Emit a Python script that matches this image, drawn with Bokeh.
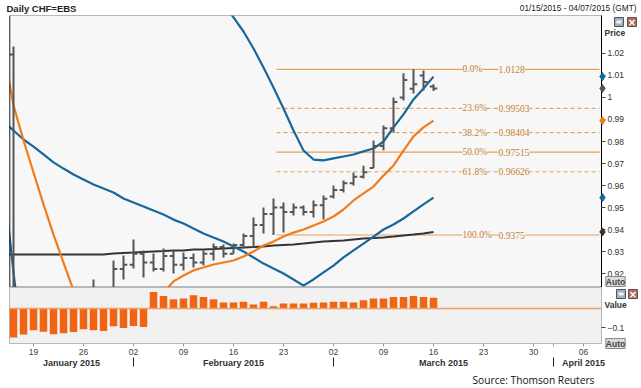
from bokeh.plotting import figure
from bokeh.models import Range1d, LinearAxis, FixedTicker, Label, LabelSet, ColumnDataSource, Span, GridBox
from bokeh.layouts import column
from bokeh.embed import file_html
from bokeh.resources import INLINE

nan = float("nan")

# ---------------- data (x = trading-day index, 0 = 15 Jan 2015) ----------------
tick_idx = [2, 7, 12, 17, 22, 27, 32, 37, 42, 47, 52, 54, 57]
tick_lab = ["19", "26", "02", "09", "16", "23", "02", "09", "16", "23", "30", "", "06"]
month_names = ["January 2015", "February 2015", "March 2015", "April 2015"]
month_pos = [5.8, 22, 43, 57]
month_start = [12, 32, 54]

bar_idx = list(range(43))
opens = [1.0195, 0.860, 0.865, 0.870, 0.876, 0.864, 0.870, 0.882, 0.898, 0.908, 0.905, 0.922, 0.924, 0.929,
         0.925, 0.922, 0.928, 0.924, 0.927, 0.925, 0.929, 0.932, 0.929, 0.933, 0.937, 0.942, 0.947, 0.950,
         0.948, 0.950, 0.948, 0.951, 0.955, 0.958, 0.961, 0.964, 0.968, 0.978, 0.986, 1.000, 1.004, 1.010, 1.005]
highs = [1.0232, 0.900, 0.877, 0.880, 0.880, 0.875, 0.887, 0.902, 0.9173, 0.912, 0.9259, 0.9282, 0.9355, 0.9305,
         0.9291, 0.9314, 0.9305, 0.9295, 0.9291, 0.9305, 0.9336, 0.9332, 0.9336, 0.9382, 0.9455, 0.9500, 0.9541,
         0.9523, 0.9518, 0.9509, 0.9532, 0.9555, 0.9600, 0.9623, 0.9659, 0.9690, 0.9805, 0.9873, 1.0000, 1.0110,
         1.0128, 1.0123, 1.0060]
lows = [0.7400, 0.850, 0.857, 0.862, 0.858, 0.855, 0.866, 0.878, 0.895, 0.900, 0.902, 0.9173, 0.9223, 0.9182,
        0.9209, 0.9209, 0.9200, 0.9214, 0.9227, 0.9236, 0.9259, 0.9273, 0.9291, 0.9314, 0.9318, 0.9382, 0.9375,
        0.9386, 0.9464, 0.9464, 0.9455, 0.9445, 0.9541, 0.9568, 0.9600, 0.9632, 0.9680, 0.9760, 0.9840, 0.9986,
        1.0018, 1.0032, 1.0030]
closes = [0.860, 0.865, 0.870, 0.876, 0.864, 0.870, 0.882, 0.898, 0.908, 0.905, 0.922, 0.924, 0.929, 0.925,
          0.922, 0.928, 0.924, 0.927, 0.925, 0.929, 0.932, 0.929, 0.933, 0.937, 0.942, 0.947, 0.950, 0.948,
          0.950, 0.948, 0.951, 0.954, 0.958, 0.961, 0.964, 0.966, 0.978, 0.986, 0.998, 1.008, 1.006, 1.007, 1.0041]

ma_idx = list(range(-1, 43))
ma_blue_fast = [0.9623, 0.9205, 0.8832] + [nan] * 18 + [1.0495, 1.0427, 1.0364, 1.0300, 1.0223, 1.0136, 1.0045,
                0.9950, 0.9850, 0.9759, 0.9718, 0.9714, 0.9723, 0.9732, 0.9741, 0.9755, 0.9768, 0.9800, 0.9864,
                0.9923, 0.9991, 1.0041, 1.0095]
ma_blue_slow = [0.9891, 0.9850, 0.9809, 0.9777, 0.9741, 0.9705, 0.9677, 0.9650, 0.9627, 0.9605, 0.9586, 0.9568,
                0.9541, 0.9523, 0.9505, 0.9486, 0.9468, 0.9445, 0.9427, 0.9405, 0.9382, 0.9364, 0.9345, 0.9323,
                0.9300, 0.9273, 0.9245, 0.9223, 0.9200, 0.9173, 0.9145, 0.9173, 0.9205, 0.9236, 0.9273, 0.9305,
                0.9336, 0.9368, 0.9400, 0.9423, 0.9450, 0.9482, 0.9514, 0.9545]
ma_orange = [1.0214, 0.9964, 0.9805, 0.9659, 0.9514, 0.9377, 0.9250, 0.9123, 0.8990, 0.8900, 0.8860, 0.8850,
             0.8880, 0.8930, 0.8990, 0.9050, 0.9114, 0.9164, 0.9191, 0.9214, 0.9227, 0.9241, 0.9250, 0.9259,
             0.9277, 0.9300, 0.9327, 0.9345, 0.9368, 0.9386, 0.9400, 0.9418, 0.9436, 0.9459, 0.9491, 0.9532,
             0.9564, 0.9595, 0.9645, 0.9691, 0.9759, 0.9823, 0.9864, 0.9895]
ma_dark = [0.9286] * 11 + [0.9291, 0.9293, 0.9295, 0.9298, 0.9300, 0.9302, 0.9305, 0.9305, 0.9309, 0.9309,
                          0.9311, 0.9314, 0.9316, 0.9318, 0.9320, 0.9323, 0.9327, 0.9330, 0.9332, 0.9336,
                          0.9341, 0.9345, 0.9348, 0.9350, 0.9355, 0.9359, 0.9361, 0.9364, 0.9368, 0.9373,
                          0.9377, 0.9382, 0.9389]

osc = [-0.153, -0.137, -0.114, -0.123, -0.136, -0.130, -0.124, -0.109, -0.114, -0.118, -0.094, -0.102, -0.092,
       -0.097, 0.087, 0.066, 0.049, 0.053, 0.070, 0.061, 0.049, 0.032, 0.032, 0.035, 0.021, 0.035, 0.012, 0.026,
       0.026, 0.026, 0.030, 0.032, 0.035, 0.035, 0.032, 0.044, 0.053, 0.053, 0.061, 0.061, 0.066, 0.061, 0.056]

fib_pct = ["0.0%", "23.6%", "38.2%", "50.0%", "61.8%", "100.0%"]
fib_val = [1.0128, 0.99503, 0.98404, 0.97515, 0.96626, 0.9375]
fib_txt = ["1.0128", "0.99503", "0.98404", "0.97515", "0.96626", "0.9375"]
fib_dashed = [False, True, True, False, True, False]
fib_start, fib_end = 26.3, 58.6

price_ticks = [0.92, 0.93, 0.94, 0.95, 0.96, 0.97, 0.98, 0.99, 1.0, 1.01, 1.02]
value_ticks = [-0.1]

# ---------------- styling ----------------
FONT = "Liberation Sans"
BLUE = "#17679a"
ORANGE = "#f07d1a"
DARK = "#333333"
BARC = "#555555"
HIST = "#f06414"
FIBL = "#e2a25c"
FIBT = "#c97d2e"
BG1 = "#f7f7f7"
BG2 = "#f1f1f1"

x_range = Range1d(-0.4, 58.8)
price_range = Range1d(0.91364, 1.03727)

p1 = figure(width=641, height=287, x_range=x_range, y_range=price_range, title=None,
            x_axis_location=None, y_axis_location=None, toolbar_location=None, output_backend="svg",
            min_border=0, min_border_left=9, min_border_right=40, min_border_top=15, min_border_bottom=0,
            background_fill_color=BG1, border_fill_color="white", outline_line_color="#b8b8b8")
for g in p1.grid:
    g.visible = False

# fib lines
for lvl, dashed in zip(fib_val, fib_dashed):
    p1.segment(x0=fib_start, y0=lvl, x1=fib_end, y1=lvl, line_color=FIBL, line_width=1.2,
               line_dash="4 3" if dashed else "solid")
fsrc = ColumnDataSource(dict(xp=[44.9] * len(fib_val), xv=[48.5] * len(fib_val), y=fib_val,
                             pct=fib_pct, txt=fib_txt))
for col, xcol in (("pct", "xp"), ("txt", "xv")):
    p1.add_layout(LabelSet(x=xcol, y="y", text=col, source=fsrc, text_font=FONT, text_font_size="9.5px",
                           text_color=FIBT, text_baseline="middle", text_align="left",
                           background_fill_color=BG1))

# moving averages
p1.line(ma_idx, ma_dark, line_color=DARK, line_width=2)
p1.line(ma_idx, ma_blue_slow, line_color=BLUE, line_width=2.2)
p1.line(ma_idx, ma_orange, line_color=ORANGE, line_width=2.2)
p1.line(ma_idx, ma_blue_fast, line_color=BLUE, line_width=2.2)

# OHLC bars
p1.segment(x0=bar_idx, y0=lows, x1=bar_idx, y1=highs, line_color=BARC, line_width=2)
p1.segment(x0=[i - 0.38 for i in bar_idx], y0=opens, x1=bar_idx, y1=opens, line_color=BARC, line_width=2)
p1.segment(x0=bar_idx, y0=closes, x1=[i + 0.38 for i in bar_idx], y1=closes, line_color=BARC, line_width=2)

p1.add_layout(Span(location=x_range.start, dimension="height", line_color="black", line_width=1.5))

yax = LinearAxis(ticker=FixedTicker(ticks=price_ticks),
                 major_label_overrides={t: f"{t:g}" for t in price_ticks},
                 major_tick_out=4, major_tick_in=0, axis_line_color="black", major_tick_line_color="#444",
                 major_label_text_font=FONT, major_label_text_font_size="8.5px", major_label_text_color="#333",
                 major_label_standoff=2)
p1.add_layout(yax, "right")

# ---------------- lower panel ----------------
p2 = figure(width=641, height=101, x_range=x_range, y_range=Range1d(-0.1842, 0.1105), title=None,
            x_axis_location=None, y_axis_location=None, toolbar_location=None, output_backend="svg",
            min_border=0, min_border_left=9, min_border_right=40, min_border_top=0, min_border_bottom=45,
            background_fill_color=BG2, border_fill_color="white", outline_line_color="#b8b8b8")
for g in p2.grid:
    g.visible = False

p2.add_layout(Span(location=0, dimension="width", line_color="#f2a060", line_width=1.5))
p2.vbar(x=bar_idx, top=osc, bottom=0, width=0.75, fill_color=HIST, line_color=None)

vax = LinearAxis(ticker=FixedTicker(ticks=value_ticks), major_tick_out=4, major_tick_in=0,
                 axis_line_color=None, major_tick_line_color="#444", major_label_text_font=FONT,
                 major_label_text_font_size="8.5px", major_label_text_color="#333", major_label_standoff=2)
p2.add_layout(vax, "right")

ax1 = LinearAxis(ticker=FixedTicker(ticks=tick_idx), major_label_overrides=dict(zip(tick_idx, tick_lab)),
                 major_tick_out=3, major_tick_in=0, axis_line_color=None, major_tick_line_color="#999",
                 major_label_text_font=FONT, major_label_text_font_size="8.5px", major_label_text_color="#444",
                 major_label_standoff=2)
ax2 = LinearAxis(ticker=FixedTicker(ticks=month_pos, minor_ticks=month_start),
                 major_label_overrides=dict(zip(month_pos, month_names)),
                 major_tick_out=0, major_tick_in=0, minor_tick_out=9, minor_tick_in=0,
                 minor_tick_line_color="#222", axis_line_color=None, major_label_text_font=FONT,
                 major_label_text_font_style="bold", major_label_text_font_size="9px",
                 major_label_text_color="#333", major_label_standoff=-9)
p2.add_layout(ax1, "below")
p2.add_layout(ax2, "below")

charts = column(p1, p2, spacing=0)

# ---------------- transparent text layer (pixel coordinates, y downwards) ----------------
ov = figure(width=641, height=388, x_range=Range1d(0, 641), y_range=Range1d(388, 0), title=None,
            x_axis_location=None, y_axis_location=None, toolbar_location=None, output_backend="svg",
            min_border=0, background_fill_color=None, border_fill_color=None, outline_line_color=None)
for g in ov.grid:
    g.visible = False
# same price scale as the upper panel, stretched over the whole layer
ov.extra_y_ranges = {"price": Range1d(0.86773, 1.04409)}


def txt(x, y, s, size="8.5px", bold=False, align="left", font=FONT, color="#222", **kw):
    ov.add_layout(Label(x=x, y=y, text=s, text_font=font, text_font_size=size,
                        text_font_style="bold" if bold else "normal", text_align=align,
                        text_baseline="middle", text_color=color, **kw))


txt(6, 7.5, "Daily CHF=EBS", size="9.5px", bold=True)
txt(636, 7, "01/15/2015 - 04/07/2015 (GMT)", size="8.3px", align="right")
txt(604, 32, "Price", bold=True, color="#333")
txt(604, 304, "Value", bold=True, color="#333")
txt(615, 281, "Auto", bold=True, align="center", color="#444", background_fill_color="#dcdcdc",
    border_line_color="#888")
txt(615, 343, "Auto", bold=True, align="center", color="#444", background_fill_color="#dcdcdc",
    border_line_color="#888")
txt(472, 379, "Source: Thomson Reuters", size="10.2px", font="Open Sans", color="#111")

# small panel buttons
ov.quad(left=[614, 627, 616, 628], right=[623, 636, 625, 637], top=[17, 17, 289, 289],
        bottom=[26, 26, 298, 298], fill_color=["#9fb0c6", "#b56a5c", "#9fb0c6", "#b56a5c"],
        line_color="#555555", line_width=1)
ov.quad(left=[616, 618], right=[621, 623], top=[20, 292], bottom=[23, 295], fill_color="#eef2f7",
        line_color=None)
txt(631.5, 21.5, "\u00d7", size="10px", bold=True, align="center", font="DejaVu Sans", color="white")
txt(632.5, 293.5, "\u00d7", size="10px", bold=True, align="center", font="DejaVu Sans", color="white")

# last-value markers on the price axis
last_vals = [ma_blue_fast[-1], closes[-1], ma_orange[-1], ma_blue_slow[-1], ma_dark[-1]]
last_cols = [BLUE, "#555555", ORANGE, BLUE, DARK]
ov.scatter(x=[602] * len(last_vals), y=last_vals, y_range_name="price", marker="diamond", size=8,
           fill_color=last_cols, line_color=last_cols)

layout = GridBox(children=[(charts, 0, 0), (ov, 0, 0)], spacing=0)

open("out.html", "w").write(file_html(layout, INLINE))
